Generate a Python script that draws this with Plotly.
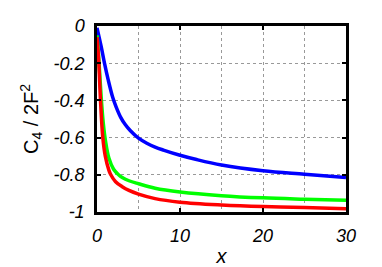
import plotly.graph_objects as go

blue_x = [0, 0.5, 0.9, 1.35, 1.9, 2.3, 2.84, 3.4, 4.0, 5, 6, 7, 8, 10, 12, 15, 20, 25, 30]
blue_y = [-0.01, -0.11, -0.2, -0.29, -0.385, -0.435, -0.49, -0.53, -0.562, -0.603, -0.63,
          -0.651, -0.667, -0.695, -0.718, -0.747, -0.778, -0.797, -0.815]

green_x = [0, 0.1, 0.25, 0.5, 0.75, 1.03, 1.43, 2.0, 2.56, 3.04, 3.85, 5, 7, 10, 15, 20, 25, 30]
green_y = [-0.05, -0.1, -0.2, -0.38, -0.52, -0.62, -0.71, -0.77, -0.798, -0.814, -0.832,
           -0.848, -0.872, -0.892, -0.912, -0.924, -0.931, -0.937]

red_x = [0, 0.05, 0.22, 0.42, 0.7, 1.0, 1.43, 1.63, 2.24, 3.04, 3.85, 5, 7, 10, 15, 20, 25, 30]
red_y = [-0.06, -0.09, -0.2, -0.4, -0.6, -0.7, -0.775, -0.797, -0.837, -0.864, -0.884,
         -0.904, -0.928, -0.947, -0.962, -0.971, -0.976, -0.982]

x_ticks = [0, 10, 20, 30]
y_ticks = [0, -0.2, -0.4, -0.6, -0.8, -1]
y_labels = ['0', '-0.2', '-0.4', '-0.6', '-0.8', '-1']

fig = go.Figure()
for xs, ys, col in [(blue_x, blue_y, '#0000ff'), (green_x, green_y, '#00ff00'), (red_x, red_y, '#ff0000')]:
    fig.add_trace(go.Scatter(x=xs, y=ys, mode='lines',
                             line=dict(color=col, width=3.5, shape='spline', smoothing=1)))

fnt = 'Liberation Sans, Arial'

# page body has an 8px margin, so the figure sits 8px in from the window corner
fig.update_layout(
    width=382, height=267,
    margin=dict(l=89, r=44, t=18, b=63),
    plot_bgcolor='white', paper_bgcolor='white',
    showlegend=False,
    font=dict(family=fnt, size=18, color='black'),
)
fig.update_xaxes(
    range=[0, 30], tickvals=x_ticks, ticktext=['<i>%d</i>' % v for v in x_ticks],
    tickfont=dict(family=fnt, size=18), ticks='inside', ticklen=4, tickwidth=2, tickcolor='black',
    showline=True, linewidth=2.5, linecolor='black', mirror='ticks',
    showgrid=True, gridcolor='#999999', griddash='dot', gridwidth=1,
    minor=dict(tickvals=[5, 15, 25], showgrid=True, gridcolor='#999999', griddash='dot', ticklen=0),
    ticklabelstandoff=6, zeroline=False, automargin=False,
    title=dict(text='<i>x</i>', font=dict(family=fnt, size=20), standoff=4),
)
fig.update_yaxes(
    range=[-1, 0], tickvals=y_ticks, ticktext=['<i>%s</i>' % s for s in y_labels],
    tickfont=dict(family=fnt, size=18), ticks='inside', ticklen=4, tickwidth=2, tickcolor='black',
    showline=True, linewidth=2.5, linecolor='black', mirror='ticks',
    showgrid=True, gridcolor='#999999', griddash='dot', gridwidth=1,
    ticklabelstandoff=6, zeroline=False, automargin=False,
    title=dict(text='C<sub>4</sub> / 2F<sup>2</sup>', font=dict(family=fnt, size=20), standoff=10),
)

fig.write_html("out.html")
